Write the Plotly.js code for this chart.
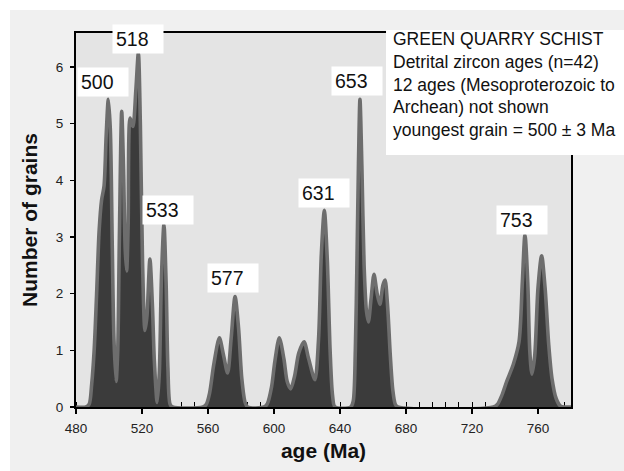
<!DOCTYPE html>
<html>
<head>
<meta charset="utf-8">
<script src="https://cdn.plot.ly/plotly-3.0.1.min.js"></script>
<style>
html, body { margin: 0; padding: 0; background: #ffffff; }
#plot { position: absolute; left: 10px; top: 10px; width: 614px; height: 461px; }
</style>
</head>
<body>
<div id="plot"></div>
<script>
// ---- data ----
const ages = [
  480, 486, 488, 489.5, 491, 492.5, 494, 495.5, 497, 498.3, 499.6, 500.8, 502, 503, 504.3,
  505.3, 506.3, 507.7, 508.8, 509.8, 510.7, 511.6, 512.8, 514.5, 516.3, 517.8, 519, 520.3,
  521.8, 523, 524.8, 526.3, 527.5, 529.2, 530.5, 531.8, 533.3, 534.6, 535.7, 537, 538.5,
  557, 559, 561, 563.5, 566.9, 569.5, 571.9, 574, 576.4, 578.5, 580.5, 582.5, 584,
  594, 596, 598.5, 600.5, 603.2, 606, 608, 610.1, 612.5, 615, 618.2, 621, 624.8, 627,
  628.7, 630.5, 632.3, 634, 635.5, 637,
  646.5, 648, 649.3, 650.3, 651.2, 652.1, 653.3, 654.6, 656, 657.2, 658.8, 660.6, 662.5,
  664.2, 666, 667.3, 668.8, 670.5, 672, 673.5, 675,
  733, 735.5, 738, 741, 745, 748.5, 750.5, 752.1, 753.8, 755, 756.3, 758, 760, 762.2,
  764.3, 766.5, 768.5, 771, 773.5, 776, 780
];
const grains = [
  0, 0, 0.05, 0.4, 1.0, 2.0, 3.1, 3.65, 3.9, 4.8, 5.43, 4.9, 2.8, 1.2, 0.45,
  1.0, 3.0, 5.22, 4.2, 2.8, 2.4, 3.2, 5.1, 4.95, 5.6, 6.25, 5.0, 2.6,
  1.35, 1.6, 2.61, 1.8, 0.8, 0.08, 0.6, 2.3, 3.22, 2.2, 0.7, 0.05, 0,
  0, 0.05, 0.25, 0.75, 1.22, 0.9, 0.6, 1.2, 1.95, 1.4, 0.5, 0.08, 0,
  0, 0.06, 0.35, 0.8, 1.22, 0.85, 0.45, 0.32, 0.55, 0.95, 1.15, 0.85, 0.48, 1.2,
  2.7, 3.47, 2.6, 1.0, 0.2, 0,
  0, 0.1, 1.0, 2.6, 4.3, 5.43, 4.2, 2.5, 1.7, 1.5, 1.9, 2.34, 2.0,
  1.81, 2.15, 2.24, 1.8, 0.9, 0.3, 0.05, 0,
  0, 0.05, 0.2, 0.45, 0.75, 1.15, 2.2, 3.04, 2.2, 1.0, 0.58, 0.9, 2.1, 2.67,
  2.1, 1.1, 0.5, 0.15, 0.02, 0, 0
];
const peakLabels = ['500', '518', '533', '577', '631', '653', '753'];
const xTicks = [480, 520, 560, 600, 640, 680, 720, 760];
const yTicks = [0, 1, 2, 3, 4, 5, 6];
const boxLines = [
  'GREEN QUARRY SCHIST',
  'Detrital zircon ages (n=42)',
  '12 ages (Mesoproterozoic to',
  'Archean) not shown',
  'youngest grain = 500 \u00b1 3 Ma'
];
const xTitle = 'age (Ma)';
const yTitle = 'Number of grains';

// ---- layout-only positions of the peak label boxes (data coords) ----
const labelPos = [
  [496.4, 5.73], [517.6, 6.49], [535.5, 3.47], [575.2, 2.28],
  [630.0, 3.785], [650.0, 5.75], [750.3, 3.30]
];

const FONT = 'Arial, "Liberation Sans", Helvetica, sans-serif';

const trace = {
  x: ages,
  y: grains,
  type: 'scatter',
  mode: 'lines',
  fill: 'tozeroy',
  fillcolor: '#3b3b3b',
  line: { color: '#6d6d6d', width: 3.6, shape: 'spline', smoothing: 0.8 },
  hoverinfo: 'x+y'
};

const annotations = peakLabels.map((t, i) => ({
  x: labelPos[i][0], y: labelPos[i][1], xref: 'x', yref: 'y',
  text: t, showarrow: false,
  xanchor: 'center', yanchor: 'middle',
  font: { family: FONT, size: 19.5, color: '#111' },
  bgcolor: '#ffffff', width: 44, height: 22, borderpad: 3, align: 'left'
}));

annotations.push({
  xref: 'paper', yref: 'paper', x: 0.6358, y: 0.8636,
  xanchor: 'left', yanchor: 'middle', align: 'left', showarrow: false,
  text: boxLines.join('<br>'),
  font: { family: FONT, size: 17.5, color: '#111' }
});

const layout = {
  width: 614, height: 461,
  margin: { l: 66, r: 53, t: 23, b: 64, pad: 0 },
  paper_bgcolor: '#f0f0f0',
  plot_bgcolor: '#e4e4e4',
  showlegend: false,
  font: { family: FONT, size: 13, color: '#222' },
  xaxis: {
    range: [480, 780],
    tickvals: xTicks,
    ticks: 'outside', ticklen: 5, tickwidth: 1.5, tickcolor: '#000',
    ticklabelstandoff: 3,
    minor: { dtick: 8, tick0: 480, ticks: 'inside', ticklen: 5, tickcolor: '#000', tickwidth: 1 },
    showline: true, linecolor: '#000', linewidth: 2, mirror: true,
    showgrid: false, zeroline: false,
    layer: 'below traces',
    tickfont: { family: FONT, size: 13.5, color: '#222' },
    title: { text: xTitle, font: { family: FONT, size: 21, color: '#111', weight: 'bold' }, standoff: 8 }
  },
  yaxis: {
    range: [0, 6.6],
    tickvals: yTicks,
    ticks: 'outside', ticklen: 4, tickwidth: 1.5, tickcolor: '#000',
    ticklabelstandoff: 4,
    showline: true, linecolor: '#000', linewidth: 2, mirror: true,
    showgrid: false, zeroline: false,
    tickfont: { family: FONT, size: 13.5, color: '#222' },
    title: { text: yTitle, font: { family: FONT, size: 21, color: '#111', weight: 'bold' }, standoff: 12 }
  },
  shapes: [{
    type: 'rect', xref: 'paper', yref: 'paper',
    x0: 0.6263, x1: 1.107, y0: 0.6738, y1: 1.008,
    fillcolor: '#ffffff', line: { width: 0 }, layer: 'above'
  }],
  annotations: annotations
};

Plotly.newPlot('plot', [trace], layout, { displayModeBar: false, staticPlot: true });
</script>
</body>
</html>
